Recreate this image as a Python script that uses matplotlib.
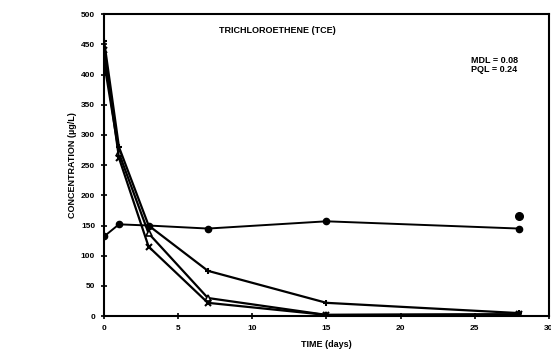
import matplotlib
matplotlib.use("Agg")
import matplotlib.pyplot as plt

# Sampling times (days)
days = [0, 1, 3, 7, 15, 28]

# TCE concentrations (ug/L)
control = [132, 152, 150, 145, 157, 145]
series_a = [455, 280, 150, 75, 22, 5]
series_b = [420, 270, 137, 30, 2, 3]
series_c = [440, 262, 115, 22, 2, 3]
extra_day = [28]
extra_value = [165]

x_ticks = [0, 5, 10, 15, 20, 25, 30]
y_ticks = [0, 50, 100, 150, 200, 250, 300, 350, 400, 450, 500]

plt.rcParams['font.family'] = ['Liberation Sans', 'DejaVu Sans']

fig = plt.figure(figsize=(5.51, 3.54), dpi=100)
ax = fig.add_axes([0.189, 0.107, 0.807, 0.853])

lw = 1.6
ax.plot(days, control, color='black', lw=1.4, marker='o', ms=4.5)
ax.plot(days, series_a, color='black', lw=lw, marker='+', ms=5, mew=1.5)
ax.plot(days, series_b, color='black', lw=lw, marker='^', ms=4, mfc='white', mew=1.2)
ax.plot(days, series_c, color='black', lw=lw, marker='x', ms=4, mew=1.5)
ax.plot(extra_day, extra_value, color='black', ls='none', marker='o', ms=5.5)

ax.set_xlim(0, 30)
ax.set_ylim(0, 500)
ax.set_xticks(x_ticks)
ax.set_yticks(y_ticks)
ax.set_xticklabels([str(v) for v in x_ticks], fontsize=6, fontweight='bold')
ax.set_yticklabels([str(v) for v in y_ticks], fontsize=6, fontweight='bold')
ax.tick_params(direction='inout', length=5, width=1.2, pad=4)

for s in ax.spines.values():
    s.set_linewidth(1.5)

ax.set_xlabel('TIME (days)', fontsize=6.5, fontweight='bold', labelpad=6)
ax.set_ylabel('CONCENTRATION (\u00b5g/L)', fontsize=6.5, fontweight='bold', labelpad=3)

ax.text(0.39, 0.947, 'TRICHLOROETHENE (TCE)', transform=ax.transAxes,
        fontsize=6.5, fontweight='bold', ha='center', va='center')
ax.text(0.825, 0.83, 'MDL = 0.08\nPQL = 0.24', transform=ax.transAxes,
        fontsize=6.5, fontweight='bold', ha='left', va='center', linespacing=1.0)

fig.savefig('out.png', dpi=100)
